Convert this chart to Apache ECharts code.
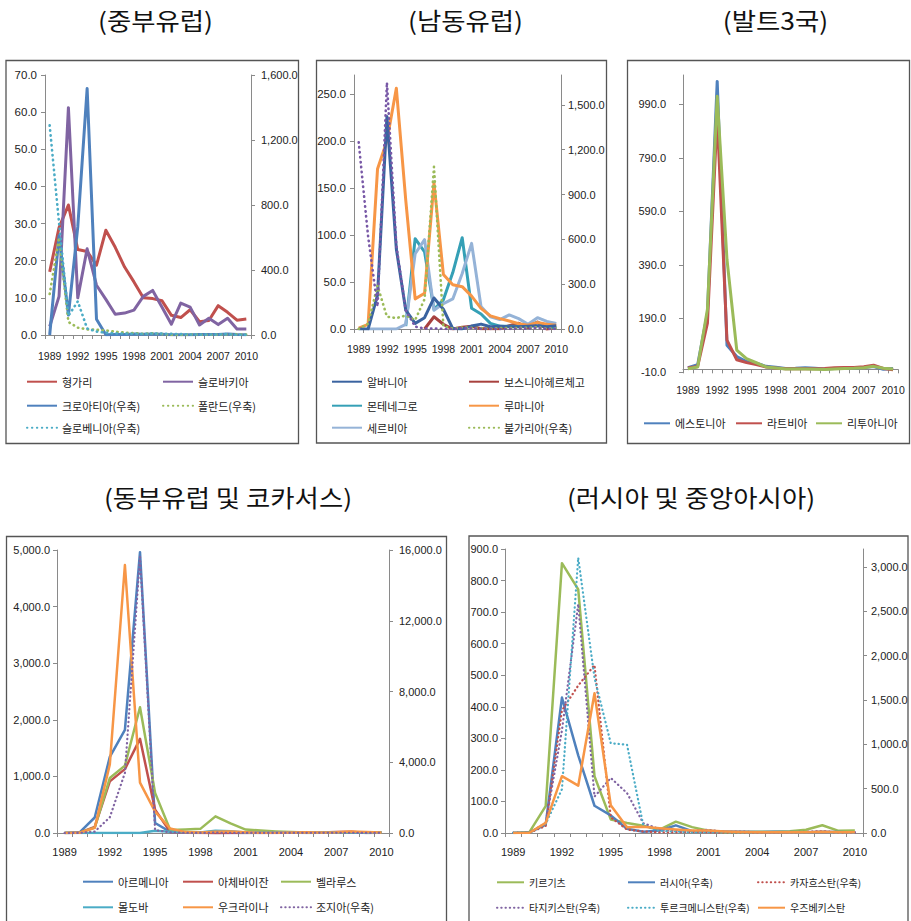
<!DOCTYPE html>
<html>
<head>
<meta charset="utf-8">
<script src="https://cdn.jsdelivr.net/npm/echarts@6/dist/echarts.min.js"></script>
<style>
  html, body { margin: 0; padding: 0; background: #fff; }
  #chart { width: 911px; height: 921px; }
</style>
</head>
<body>
<div id="chart"></div>
<script>
// Years on every category axis
const years = ['1989','1990','1991','1992','1993','1994','1995','1996','1997','1998','1999',
               '2000','2001','2002','2003','2004','2005','2006','2007','2008','2009','2010'];

// (중부유럽) — left axis
const hungary  = [17.0, 28.9, 35.0, 23.0, 22.5, 18.8, 28.2, 23.6, 18.3, 14.3, 10.0, 9.8, 9.2, 5.3, 4.7, 6.8, 3.6, 3.9, 7.9, 6.1, 4.0, 4.3];
const slovakia = [2.3, 10.4, 61.2, 10.0, 23.2, 13.4, 9.6, 5.6, 5.9, 6.7, 10.4, 12.0, 7.5, 2.9, 8.6, 7.5, 2.7, 4.5, 2.8, 4.5, 1.6, 1.6];
// (중부유럽) — right axis
const croatia  = [0, 610, 123, 665, 1517, 97, 2.0, 3.5, 3.6, 5.7, 4.2, 6.2, 4.9, 1.7, 1.8, 2.1, 3.3, 3.2, 2.9, 6.1, 2.4, 1.0];
const poland   = [252, 600, 80, 45, 35, 32, 28, 20, 15, 12, 7, 10, 5.5, 1.9, 0.8, 3.5, 2.1, 1.0, 2.5, 4.2, 3.5, 2.6];
const slovenia = [1290, 690, 118, 207, 40, 21, 13.5, 9.9, 8.4, 7.9, 6.1, 8.9, 8.4, 7.5, 5.6, 3.6, 2.5, 2.5, 3.6, 5.7, 0.9, 1.8];

// (남동유럽) — left axis
const albania    = [0, 0, 36, 226, 85, 20, 6, 12, 33, 21, 0.4, 0.1, 3.1, 5.2, 2.4, 2.9, 2.4, 2.4, 2.9, 3.4, 2.3, 3.6];
const bosnia     = [null, null, null, null, null, null, null, 0, 13, 5, 0, 2, 3, 0.3, 0.6, 0.3, 3.6, 6.1, 1.5, 7.4, -0.4, 2.1];
const montenegro = [null, null, null, null, null, 3, 96, 82, 21, 31, 60, 97, 22, 16, 6, 3, 3, 3, 4, 7, 3.4, 0.7];
const romania    = [1, 5, 170, 200, 256, 137, 32, 38, 155, 58, 47, 45, 35, 22, 14, 11, 8.5, 5.6, 4, 7, 5, 4];
const serbia     = [null, 0, 0, 0, 0, 5, 80, 95, 20, 27, 32, 59, 91, 24, 13, 10, 15, 11, 5, 12, 8, 6];
// (남동유럽) — right axis
const bulgaria   = [0, 35, 290, 82, 73, 90, 60, 200, 1085, 19, 2.6, 10.3, 7.4, 5.8, 2.3, 6.1, 6, 7.4, 7.6, 12, 2.5, 3];
const macedonia  = [1250, 620, 150, 1650, 560, 125, 16, 3, 4, 1, -1, 6, 5, 2, 1, -0.4, 0.5, 3, 2, 8, -0.8, 1.6];

// (발트3국)
const estonia   = [6.1, 17.2, 210.5, 1076, 89.8, 47.7, 29, 23.1, 11.2, 8.1, 3.3, 4, 5.8, 3.6, 1.3, 3, 4.1, 4.4, 6.6, 10.4, -0.1, 2.9];
const latvia    = [4.7, 10.5, 172.2, 951.2, 109.2, 35.9, 25, 17.6, 8.4, 4.7, 2.4, 2.6, 2.5, 1.9, 2.9, 6.2, 6.9, 6.6, 10.1, 15.3, 3.3, -1.2];
const lithuania = [2.1, 8.4, 224.7, 1020.5, 410.4, 72.1, 39.6, 24.6, 8.9, 5.1, 0.8, 1, 1.3, 0.3, -1.1, 1.2, 2.7, 3.8, 5.8, 11.1, 4.2, 1.2];

// (동부유럽 및 코카서스) — left axis
const armenia    = [0, 10.3, 274, 1346, 1822, 4962, 176, 18.7, 14, 8.7, 0.7, -0.8, 3.1, 1.1, 4.7, 7, 0.6, 2.9, 4.4, 9, 3.4, 8.2];
const azerbaijan = [1, 7.8, 107, 912, 1129, 1664, 412, 19.8, 3.7, -0.8, -8.5, 1.8, 1.5, 2.8, 2.2, 6.7, 9.7, 8.4, 16.6, 20.8, 1.5, 5.7];
const belarus    = [1, 4.5, 94.1, 970.8, 1190.2, 2221, 709.3, 52.7, 63.8, 73, 293.7, 168.6, 61.1, 42.5, 28.4, 18.1, 10.3, 7, 8.4, 14.8, 13, 7.7];
const moldova    = [0, 0, 0, 0, 0, 0, 40, 24, 12, 8, 39, 31, 10, 5, 12, 12, 12, 13, 12, 13, 0, 7];
const ukraine    = [2, 4, 91, 1210, 4735, 891, 377, 80, 16, 10.6, 22.7, 28.2, 12, 0.8, 5.2, 9, 13.5, 9.1, 12.8, 25.2, 15.9, 9.4];
// (동부유럽 및 코카서스) — right axis
const georgia    = [0, 3.3, 79, 887, 3400, 15607, 163, 39, 7, 3.6, 19, 4, 4.7, 5.6, 4.8, 5.7, 8.2, 9.2, 9.2, 10, 1.7, 7.1];

// (러시아 및 중앙아시아) — left axis
const kyrgyz     = [0, 3, 85, 855, 772, 180, 43, 32, 23, 10.5, 36, 18.7, 7, 2, 3.1, 4.1, 4.3, 5.6, 10.2, 24.5, 6.8, 7.8];
const uzbekistan = [0, 0.7, 32, 180, 150, 443, 88, 18, 20, 15, 11, 8, 8, 5, 3, 2, 2, 2, 2, 4, 2, 2];
// (러시아 및 중앙아시아) — right axis
const russia       = [2, 5.6, 93, 1526, 875, 307, 198, 48, 15, 28, 86, 21, 22, 16, 14, 11, 13, 10, 9, 14, 12, 7];
const kazakhstan   = [1, 4, 79, 1381, 1662, 1892, 176, 39, 17, 7, 8, 13, 8, 6, 6, 7, 8, 9, 11, 17, 7, 7];
const tajikistan   = [1, 4, 112, 1157, 2580, 410, 620, 450, 110, 43, 27, 24, 37, 10, 17, 7, 7, 10, 13, 20, 6, 6];
const turkmenistan = [2, 5, 103, 493, 3102, 1748, 1012, 994, 84, 24, 17, 8, 12, 9, 6, 6, 11, 8, 6, 15, 2, 4];

// Panel titles
const titles = ['(중부유럽)', '(남동유럽)', '(발트3국)', '(동부유럽 및 코카서스)', '(러시아 및 중앙아시아)'];

const KR = '"Noto Sans CJK KR", "Noto Sans CJK SC", sans-serif';
const NUM = '"Liberation Sans", Arial, sans-serif';
const AXIS_COLOR = '#8a8a8a';

function fmt(v) {
  return Number(v).toLocaleString('en-US', { minimumFractionDigits: 1, maximumFractionDigits: 1 });
}

function xAx(gridIndex, fontSize, margin) {
  return {
    type: 'category', gridIndex, data: years, boundaryGap: true,
    axisLine: { lineStyle: { color: AXIS_COLOR, width: 1 } },
    axisTick: { show: true, interval: 0, length: 4, alignWithLabel: false, lineStyle: { color: AXIS_COLOR } },
    axisLabel: { interval: 2, fontSize, fontFamily: NUM, color: '#222', margin },
    splitLine: { show: false }
  };
}

function yAx(gridIndex, position, min, max, interval, fontSize, margin) {
  return {
    type: 'value', gridIndex, position, min, max, interval,
    axisLine: { show: true, lineStyle: { color: AXIS_COLOR, width: 1 } },
    axisTick: { show: true, length: 4, lineStyle: { color: AXIS_COLOR } },
    axisLabel: { formatter: fmt, fontSize, fontFamily: NUM, color: '#222', margin, showMaxLabel: (max - min) % interval === 0 },
    splitLine: { show: false }
  };
}

// Solid or round-dotted polyline series
function line(name, data, xi, yi, color, width, dotted) {
  return {
    name, type: 'line', data, xAxisIndex: xi, yAxisIndex: yi,
    symbol: 'none', smooth: false, animation: false,
    lineStyle: dotted
      ? { color, width, type: [0.4, width * 1.75], cap: 'round', join: 'round' }
      : { color, width, type: 'solid', cap: 'butt', join: 'round' },
    itemStyle: { color }
  };
}

function legendItem(name, left, cy, itemWidth, fontSize) {
  return {
    data: [name], left, top: cy - 7, padding: 0, itemWidth, itemHeight: 14,
    selectedMode: false, orient: 'horizontal',
    itemStyle: { opacity: 0, borderWidth: 0 },
    textStyle: { fontSize: fontSize || 11, fontFamily: KR, color: '#222', lineHeight: 14 }
  };
}

function title(i, x, y) {
  return {
    type: 'text', x, y, scaleX: 1.1, silent: true,
    style: { text: titles[i], font: '24px ' + KR, fill: '#111', textAlign: 'center', textVerticalAlign: 'middle' }
  };
}

function frame(x, y, width, height) {
  return { type: 'rect', silent: true, shape: { x, y, width, height }, style: { fill: 'none', stroke: '#555', lineWidth: 1.3 } };
}

const C = {
  red: '#C0504D', purple: '#8064A2', blue: '#4F81BD', green: '#9BBB59',
  cyan: '#4BACC6', orange: '#F79646', navy: '#3A63A0', darkred: '#A8413E',
  teal: '#35A0B6', lightblue: '#95B3D7', violet: '#7858A6'
};

const option = {
  animation: false,
  backgroundColor: '#fff',
  grid: [
    { left: 45, top: 75, width: 206, height: 260 },
    { left: 354, top: 75, width: 207, height: 254 },
    { left: 683, top: 75, width: 215, height: 297 },
    { left: 57, top: 550, width: 332, height: 283 },
    { left: 505, top: 549, width: 358, height: 284 }
  ],
  xAxis: [
    xAx(0, 10.5, 15),
    xAx(1, 10.5, 14),
    xAx(2, 10.5, 12),
    xAx(3, 11, 13),
    xAx(4, 11, 13)
  ],
  yAxis: [
    yAx(0, 'left', 0, 70, 10, 11.5, 8),
    yAx(0, 'right', 0, 1600, 400, 11, 10),
    yAx(1, 'left', 0, 270, 50, 11.5, 8),
    yAx(1, 'right', 0, 1700, 300, 11, 7),
    yAx(2, 'left', -10, 1100, 200, 11, 17),
    yAx(3, 'left', 0, 5000, 1000, 11, 7),
    yAx(3, 'right', 0, 16000, 4000, 11, 10),
    yAx(4, 'left', 0, 900, 100, 11, 7),
    yAx(4, 'right', 0, 3200, 500, 11, 8)
  ],
  legend: [
    legendItem('형가리', 26, 381.7, 30),
    legendItem('슬로바키아', 162, 381.7, 30),
    legendItem('크로아티아(우축)', 26, 405.7, 30),
    legendItem('폴란드(우축)', 162, 405.7, 30),
    legendItem('슬로베니아(우축)', 26, 427.7, 30),

    legendItem('알바니아', 331, 381.7, 30),
    legendItem('보스니아헤르체고', 468, 381.7, 30),
    legendItem('몬테네그로', 331, 405.7, 30),
    legendItem('루마니아', 468, 405.7, 30),
    legendItem('세르비아', 331, 427.7, 30),
    legendItem('불가리아(우축)', 468, 427.7, 30),

    legendItem('에스토니아', 643, 423.3, 26),
    legendItem('라트비아', 735, 423.3, 26),
    legendItem('리투아니아', 815, 423.3, 26),

    legendItem('아르메니아', 82, 881.7, 30),
    legendItem('아체바이잔', 182, 881.7, 30),
    legendItem('벨라루스', 280, 881.7, 30),
    legendItem('몰도바', 82, 907.3, 30),
    legendItem('우크라이나', 182, 907.3, 30),
    legendItem('조지아(우축)', 280, 907.3, 30),

    legendItem('키르기츠', 496, 882.3, 27, 10),
    legendItem('러시아(우축)', 627, 882.3, 27, 10),
    legendItem('카자흐스탄(우축)', 757, 882.3, 27, 10),
    legendItem('타지키스탄(우축)', 496, 907.7, 27, 10),
    legendItem('투르크메니스탄(우축)', 627, 907.7, 27, 10),
    legendItem('우즈베키스탄', 757, 907.7, 27, 10)
  ],
  series: [
    line('형가리', hungary, 0, 0, C.red, 3),
    line('슬로바키아', slovakia, 0, 0, C.purple, 3),
    line('크로아티아(우축)', croatia, 0, 1, C.blue, 3),
    line('폴란드(우축)', poland, 0, 1, C.green, 2.6, true),
    line('슬로베니아(우축)', slovenia, 0, 1, C.cyan, 2.6, true),

    line('보스니아헤르체고', bosnia, 1, 2, C.darkred, 3),
    line('몬테네그로', montenegro, 1, 2, C.teal, 3),
    line('세르비아', serbia, 1, 2, C.lightblue, 3),
    line('루마니아', romania, 1, 2, C.orange, 3),
    line('알바니아', albania, 1, 2, C.navy, 3),
    line('불가리아(우축)', bulgaria, 1, 3, C.green, 2.6, true),
    line('마케도니아(우축)', macedonia, 1, 3, C.violet, 2.6, true),

    line('에스토니아', estonia, 2, 4, C.blue, 3),
    line('라트비아', latvia, 2, 4, C.red, 3),
    line('리투아니아', lithuania, 2, 4, C.green, 3),

    line('아르메니아', armenia, 3, 5, C.blue, 2.5),
    line('아체바이잔', azerbaijan, 3, 5, C.red, 2.5),
    line('벨라루스', belarus, 3, 5, C.green, 2.5),
    line('몰도바', moldova, 3, 5, C.cyan, 2.5),
    line('우크라이나', ukraine, 3, 5, C.orange, 2.5),
    line('조지아(우축)', georgia, 3, 6, C.purple, 2.2, true),

    line('키르기츠', kyrgyz, 4, 7, C.green, 2.5),
    line('러시아(우축)', russia, 4, 8, C.blue, 2.5),
    line('카자흐스탄(우축)', kazakhstan, 4, 8, C.red, 2.2, true),
    line('타지키스탄(우축)', tajikistan, 4, 8, C.purple, 2.2, true),
    line('투르크메니스탄(우축)', turkmenistan, 4, 8, C.cyan, 2.2, true),
    line('우즈베키스탄', uzbekistan, 4, 7, C.orange, 2.5)
  ],
  graphic: [
    frame(6, 60.5, 292.5, 383),
    frame(316.5, 60.5, 290, 382.5),
    frame(627.5, 60.5, 282, 383),
    frame(6.5, 536.5, 440, 400),
    frame(469, 536, 439, 400),
    title(0, 155.5, 20),
    title(1, 465.5, 20),
    title(2, 775.5, 20),
    title(3, 228, 497),
    title(4, 691, 497)
  ]
};

const chart = echarts.init(document.getElementById('chart'), null, { renderer: 'svg', width: 911, height: 921 });
chart.setOption(option);
</script>
</body>
</html>
